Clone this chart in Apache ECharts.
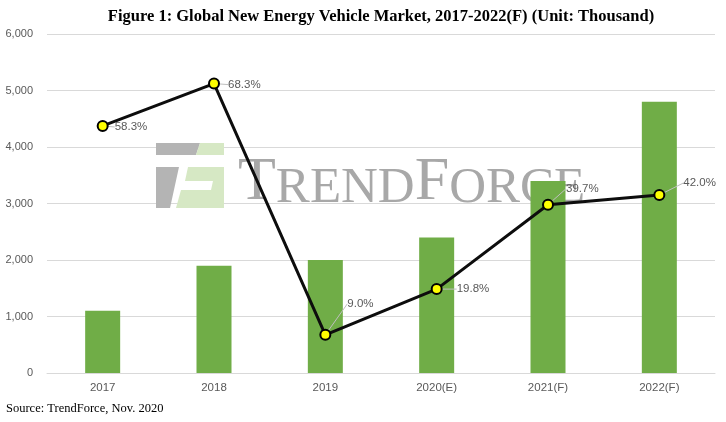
<!DOCTYPE html>
<html>
<head>
<meta charset="utf-8">
<script src="https://cdn.jsdelivr.net/npm/echarts@6/dist/echarts.min.js"></script>
<style>
    html, body { margin: 0; padding: 0; background: #fff; }
    #chart { width: 726px; height: 422px; }
</style>
</head>
<body>
<div id="chart"></div>
<script>
// data
var years = ['2017', '2018', '2019', '2020(E)', '2021(F)', '2022(F)'];
var market = [1100, 1900, 2000, 2400, 3400, 4800];   // thousand units
var growth = [58.3, 68.3, 9.0, 19.8, 39.7, 42.0];     // YoY %
var yTicks = [0, 1000, 2000, 3000, 4000, 5000, 6000];

// label nudges (dx, dy) for the growth labels
var labelShift = [[0, 1], [2, 1], [10, -31], [8, 0], [6, -16], [12, -12]];

var myChart = echarts.init(document.getElementById('chart'));

var grayLogo = '#b4b4b4';
var greenLogo = '#d6e8c4';

var option = {
    backgroundColor: '#fff',
    animation: false,
    title: {
        text: '{b|Figure 1: Global New Energy Vehicle Market, 2017-2022(F)}{n| (Unit: Thousand)}',
        left: 376,
        textAlign: 'center',
        top: 3,
        textStyle: {
            rich: {
                b: { fontFamily: 'Liberation Serif', fontWeight: 'bold', fontSize: 16.5, color: '#000' },
                n: { fontFamily: 'Liberation Serif', fontSize: 16.5, color: '#000' }
            }
        }
    },
    graphic: [
        // TrendForce watermark (kept under the series)
        { type: 'polygon', z: 1, shape: { points: [[156, 143], [200, 143], [196, 155], [156, 155]] }, style: { fill: grayLogo } },
        { type: 'polygon', z: 1, shape: { points: [[156, 167], [179, 167], [170, 208], [156, 208]] }, style: { fill: grayLogo } },
        { type: 'polygon', z: 1, shape: { points: [[200, 143], [224, 143], [224, 155], [196, 155]] }, style: { fill: greenLogo } },
        { type: 'polygon', z: 1, shape: { points: [[188, 167], [224, 167], [224, 181], [185, 181]] }, style: { fill: greenLogo } },
        { type: 'polygon', z: 1, shape: { points: [[213, 181], [224, 181], [224, 190], [211, 190]] }, style: { fill: greenLogo } },
        { type: 'polygon', z: 1, shape: { points: [[181, 190], [224, 190], [224, 208], [176, 208]] }, style: { fill: greenLogo } },
        {
            type: 'text', z: 1, left: 238, top: 152,
            style: {
                text: '{a|T}{s|REND}{a|F}{s|ORCE}',
                fill: '#a8a8a8',
                rich: {
                    a: { fontFamily: 'Liberation Serif', fontSize: 62, fill: '#a8a8a8', verticalAlign: 'bottom', lineHeight: 62 },
                    s: { fontFamily: 'Liberation Serif', fontSize: 51, fill: '#a8a8a8', verticalAlign: 'bottom', lineHeight: 62 }
                }
            }
        },
        {
            type: 'text', left: 6, top: 402,
            style: { text: 'Source: TrendForce, Nov. 2020', fontFamily: 'Liberation Serif', fontSize: 12.5, fill: '#000' }
        }
    ],
    grid: {
        left: 47,
        right: 11,
        top: 34,
        bottom: 49
    },
    xAxis: [{
        type: 'category',
        data: years,
        axisLine: { lineStyle: { color: '#d9d9d9' } },
        axisTick: { show: false },
        axisLabel: { color: '#595959', fontFamily: 'Liberation Sans', fontSize: 11.5, margin: 9 }
    }],
    yAxis: [{
        type: 'value',
        min: 0,
        max: 6000,
        interval: 1000,
        axisLine: { show: false },
        axisTick: { show: false },
        splitLine: { lineStyle: { color: '#d9d9d9' } },
        axisLabel: {
            color: '#595959', fontFamily: 'Liberation Sans', fontSize: 11, margin: 14,
            formatter: function (v) {
                return yTicks.indexOf(v) >= 0 ? v.toLocaleString('en-US') : '';
            }
        }
    }, {
        type: 'value',
        min: 0,
        max: 80,
        show: false,
        splitLine: { show: false }
    }],
    series: [{
        type: 'bar',
        data: market,
        barWidth: 35,
        z: 20,
        itemStyle: { color: '#70ad47' }
    }, {
        type: 'line',
        yAxisIndex: 1,
        data: growth,
        z: 21,
        symbol: 'circle',
        symbolSize: 10,
        lineStyle: { color: '#0d0d0d', width: 3 },
        itemStyle: { color: '#ffff00', borderColor: '#000', borderWidth: 2 },
        label: {
            show: true,
            position: 'right',
            distance: 6,
            color: '#595959',
            fontFamily: 'Liberation Sans',
            fontSize: 11.5,
            formatter: function (p) { return p.value.toFixed(1) + '%'; }
        },
        labelLine: { show: true, lineStyle: { color: '#bfbfbf', width: 1 } },
        labelLayout: function (p) {
            var s = labelShift[p.dataIndex];
            return { dx: s[0], dy: s[1] };
        }
    }]
};

myChart.setOption(option);
</script>
</body>
</html>
